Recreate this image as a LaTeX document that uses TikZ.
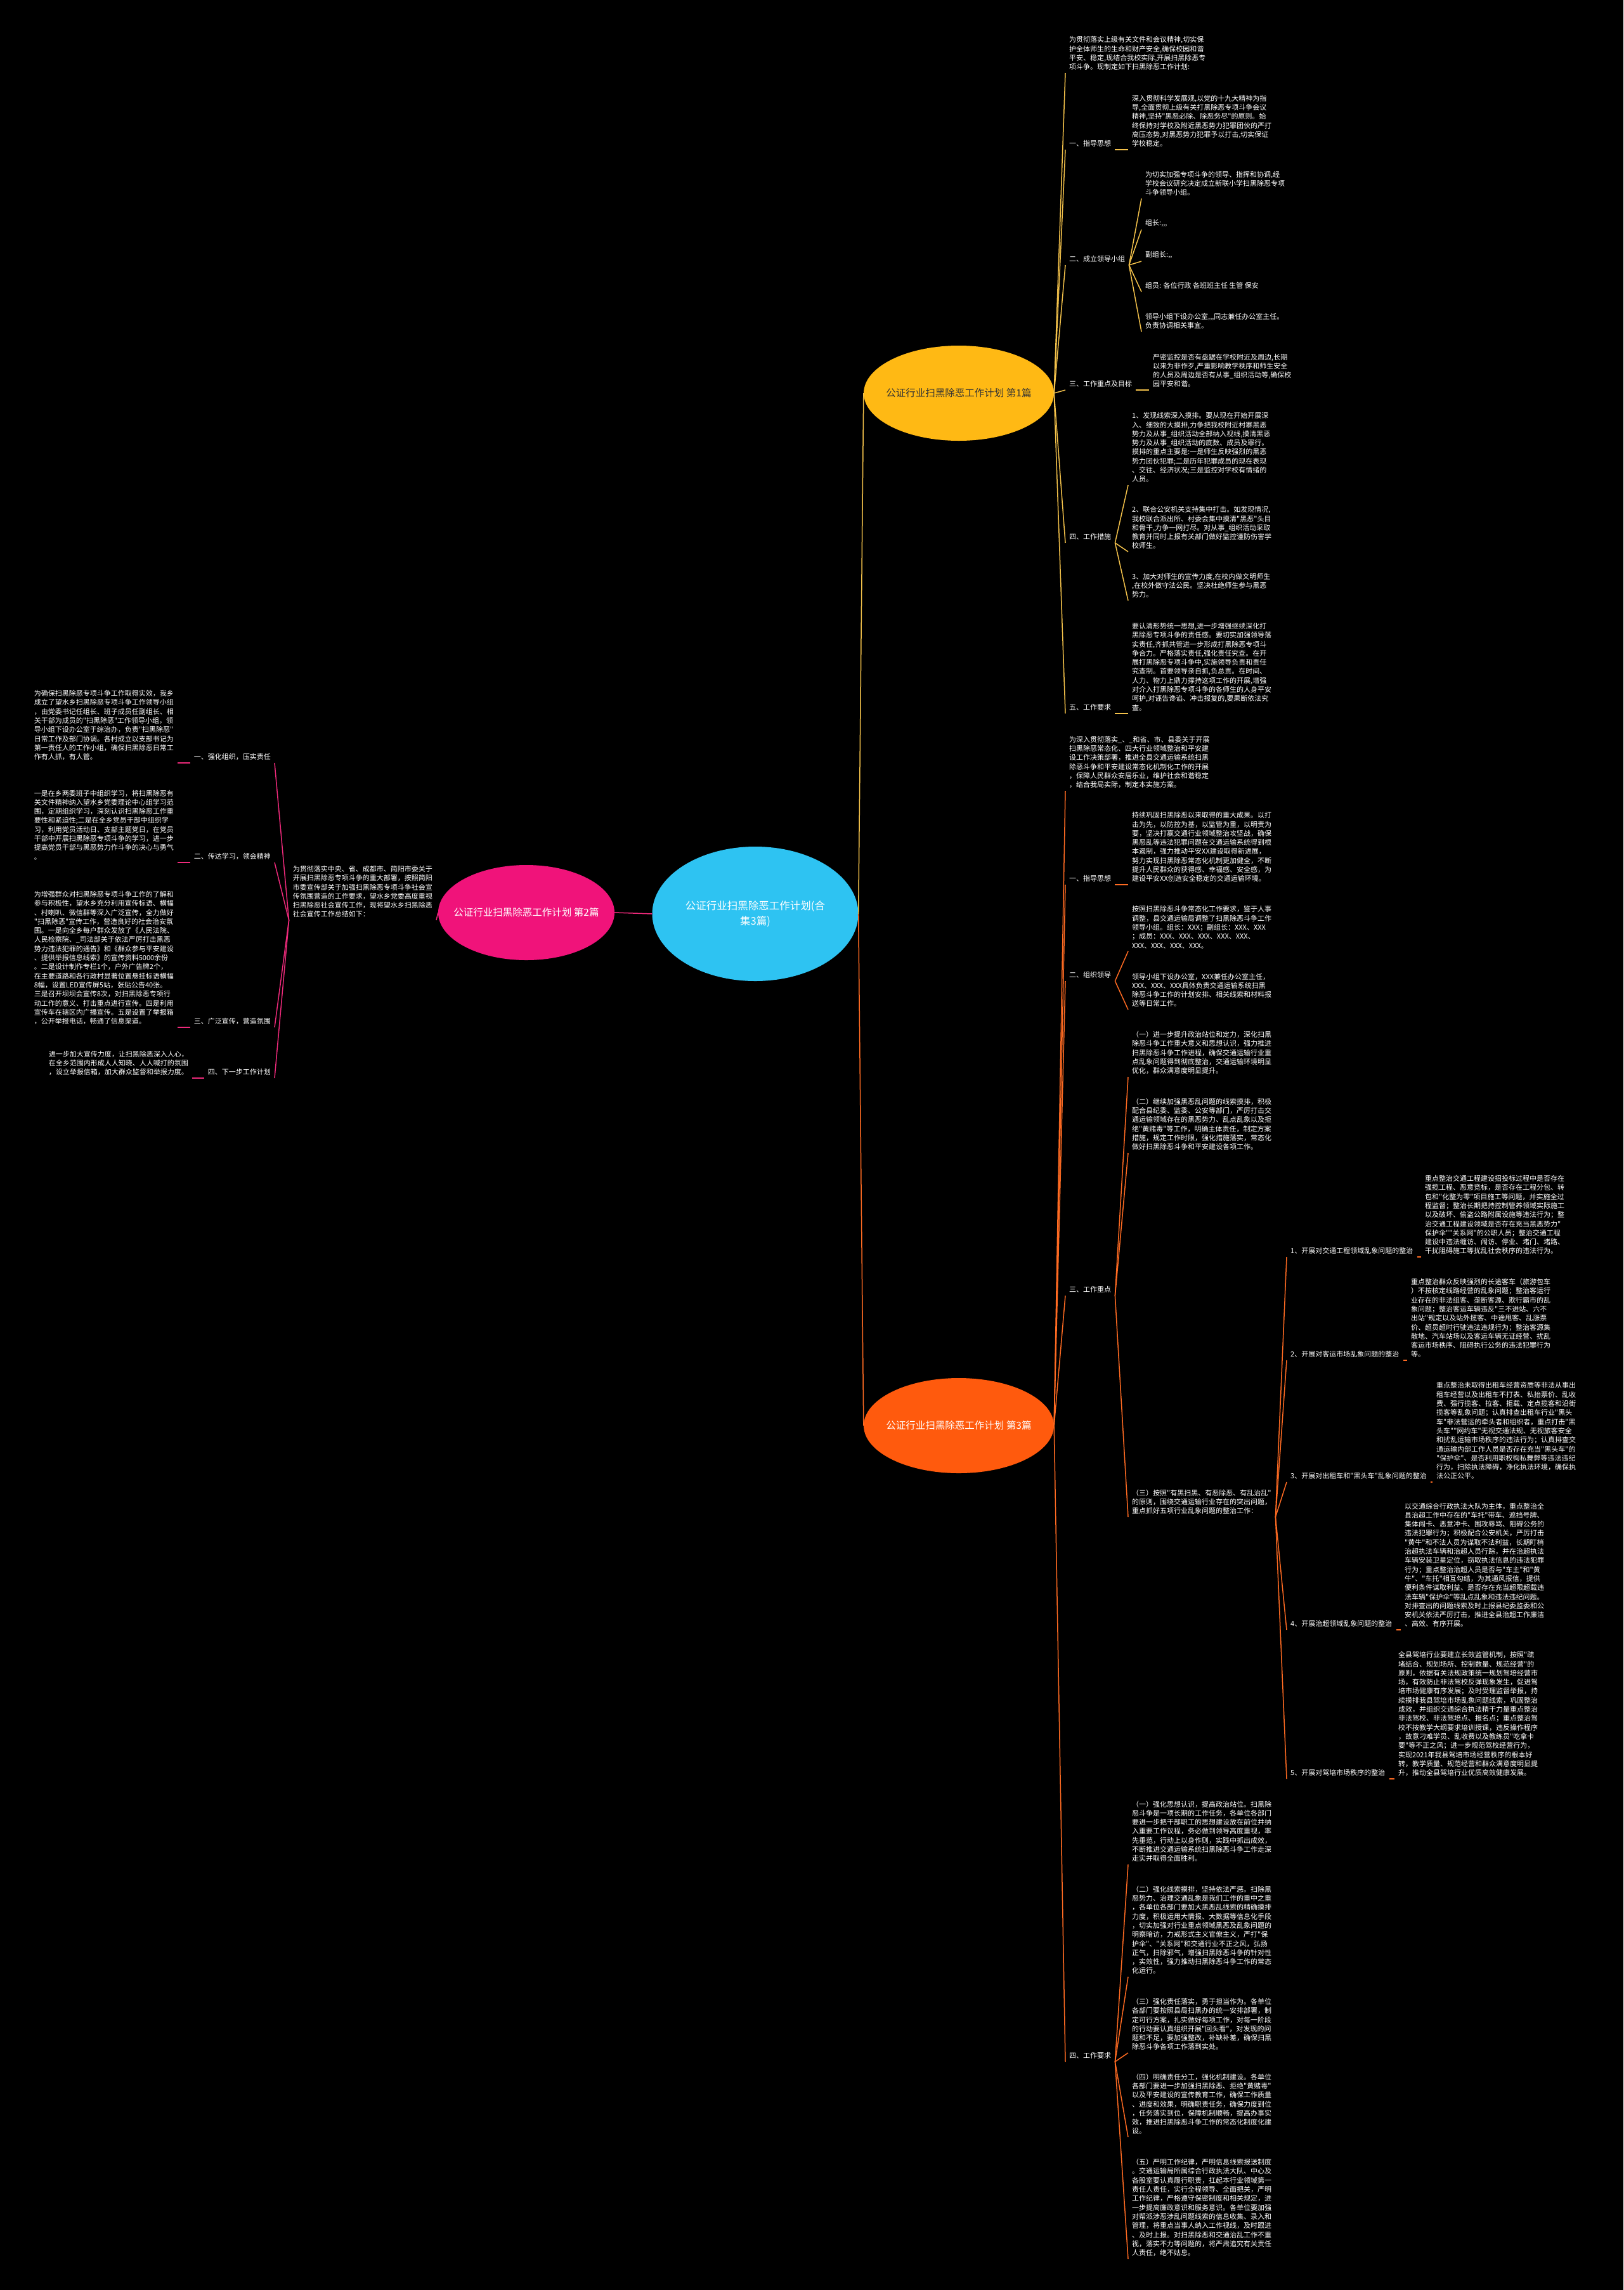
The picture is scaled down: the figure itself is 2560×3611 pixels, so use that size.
\documentclass[tikz,border=0pt]{standalone}
\usepackage{fontspec}
\newfontfamily\cjk{Noto Sans CJK SC}
\usetikzlibrary{shapes.geometric}
\definecolor{hubcyan}{HTML}{2EC3F2}
\definecolor{planyellow}{HTML}{FFB914}
\definecolor{planorange}{HTML}{FF5A0D}
\definecolor{planpink}{HTML}{F0137A}
\definecolor{lineyellow}{HTML}{F4C24B}
\definecolor{lineorange}{HTML}{FF6B22}
\definecolor{linepink}{HTML}{EE2A7B}

\begin{document}
\begin{tikzpicture}[x=1pt, y=-1pt]
\tikzset{
  hub/.style={ellipse, inner xsep=-22pt, inner ysep=0pt, minimum width=300pt, minimum height=150pt, text=white, align=center, font=\cjk\fontsize{15.5}{19}\selectfont},
  leaf/.style={inner xsep=6pt, inner ysep=4pt, text=white, align=left, font=\cjk\fontsize{11}{14.3}\selectfont},
  rleaf/.style={leaf, anchor=south west},
  lleaf/.style={leaf, anchor=south east},
  ylink/.style={draw=lineyellow, line width=1.5pt},
  olink/.style={draw=lineorange, line width=1.5pt},
  plink/.style={draw=linepink, line width=1.5pt}
}
\path[use as bounding box, fill=black] (0,0) rectangle (2560,3611);

\node[hub, fill=hubcyan, minimum width=325pt, minimum height=212pt, font=\cjk\fontsize{16.5}{24}\selectfont] (plan) at (1191,1441) {公证行业扫黑除恶工作计划(合\\集3篇)};
\node[hub, fill=planyellow, text=black!80] (p1) at (1512,620) {公证行业扫黑除恶工作计划 第1篇};
\node[hub, fill=planpink, minimum width=278pt] (p2) at (830,1439) {公证行业扫黑除恶工作计划 第2篇};
\node[hub, fill=planorange] (p3) at (1512,2248) {公证行业扫黑除恶工作计划 第3篇};

\draw[ylink] (plan.east) -- (p1.west);
\draw[plink] (plan.west) -- (p2.east);
\draw[olink] (plan.east) -- (p3.west);

% 第1篇
\node[rleaf] (p1_intro) at (1680,115) {为贯彻落实上级有关文件和会议精神,切实保\\护全体师生的生命和财产安全,确保校园和谐\\平安、稳定,现结合我校实际,开展扫黑除恶专\\项斗争。现制定如下扫黑除恶工作计划:};
\node[rleaf] (p1_guide) at (1680,236) {一、指导思想};
\node[rleaf] (p1_guide_t) at (1779,236) {深入贯彻科学发展观,以党的十九大精神为指\\导,全面贯彻上级有关打黑除恶专项斗争会议\\精神,坚持"黑恶必除、除恶务尽"的原则。始\\终保持对学校及附近黑恶势力犯罪团伙的严打\\高压态势,对黑恶势力犯罪予以打击,切实保证\\学校稳定。};
\node[rleaf] (p1_team) at (1680,418) {二、成立领导小组};
\node[rleaf] (p1_team_a) at (1800,313) {为切实加强专项斗争的领导、指挥和协调,经\\学校会议研究决定成立新联小学扫黑除恶专项\\斗争领导小组。};
\node[rleaf] (p1_team_b) at (1800,362) {组长:,,,};
\node[rleaf] (p1_team_c) at (1800,412) {副组长:,,};
\node[rleaf] (p1_team_d) at (1800,460) {组员: 各位行政 各班班主任 生管 保安};
\node[rleaf] (p1_team_e) at (1800,523) {领导小组下设办公室,,,同志兼任办公室主任。\\负责协调相关事宜。};
\node[rleaf] (p1_focus) at (1680,615) {三、工作重点及目标};
\node[rleaf] (p1_focus_t) at (1812,615) {严密监控是否有盘踞在学校附近及周边,长期\\以来为非作歹,严重影响教学秩序和师生安全\\的人员及周边是否有从事\_组织活动等,确保校\\园平安和谐。};
\node[rleaf] (p1_act) at (1680,856) {四、工作措施};
\node[rleaf] (p1_act_a) at (1779,765) {1、发现线索深入摸排。要从现在开始开展深\\入、细致的大摸排,力争把我校附近村寨黑恶\\势力及从事\_组织活动全部纳入视线,摸清黑恶\\势力及从事\_组织活动的底数、成员及罪行。\\摸排的重点主要是:一是师生反映强烈的黑恶\\势力团伙犯罪;二是历年犯罪成员的现在表现\\、交往、经济状况;三是监控对学校有情绪的\\人员。};
\node[rleaf] (p1_act_b) at (1779,870) {2、联合公安机关支持集中打击。如发现情况,\\我校联合派出所、村委会集中摸清"黑恶"头目\\和骨干,力争一网打尽。对从事\_组织活动采取\\教育并同时上报有关部门做好监控谨防伤害学\\校师生。};
\node[rleaf] (p1_act_c) at (1779,947) {3、加大对师生的宣传力度,在校内做文明师生\\,在校外做守法公民。坚决杜绝师生参与黑恶\\势力。};
\node[rleaf] (p1_req) at (1680,1125) {五、工作要求};
\node[rleaf] (p1_req_t) at (1779,1125) {要认清形势统一思想,进一步增强继续深化打\\黑除恶专项斗争的责任感。要切实加强领导落\\实责任,齐抓共管进一步形成打黑除恶专项斗\\争合力。严格落实责任,强化责任究查。在开\\展打黑除恶专项斗争中,实施领导负责和责任\\究查制。首要领导亲自抓,负总责。在时间、\\人力、物力上鼎力撑持这项工作的开展,增强\\对介入打黑除恶专项斗争的各师生的人身平安\\呵护,对诬告谗谄、冲击报复的,要果断依法究\\查。};

\draw[ylink] (p1.east) -- (p1_intro.south west);
\draw[ylink] (p1.east) -- (p1_guide.south west);
\draw[ylink] (p1.east) -- (p1_team.south west);
\draw[ylink] (p1.east) -- (p1_focus.south west);
\draw[ylink] (p1.east) -- (p1_act.south west);
\draw[ylink] (p1.east) -- (p1_req.south west);
\draw[ylink] (p1_guide.south east) -- (p1_guide_t.south west);
\draw[ylink] (p1_team.south east) -- (p1_team_a.south west);
\draw[ylink] (p1_team.south east) -- (p1_team_b.south west);
\draw[ylink] (p1_team.south east) -- (p1_team_c.south west);
\draw[ylink] (p1_team.south east) -- (p1_team_d.south west);
\draw[ylink] (p1_team.south east) -- (p1_team_e.south west);
\draw[ylink] (p1_focus.south east) -- (p1_focus_t.south west);
\draw[ylink] (p1_act.south east) -- (p1_act_a.south west);
\draw[ylink] (p1_act.south east) -- (p1_act_b.south west);
\draw[ylink] (p1_act.south east) -- (p1_act_c.south west);
\draw[ylink] (p1_req.south east) -- (p1_req_t.south west);

% 第2篇
\node[lleaf] (p2_intro) at (688,1451) {为贯彻落实中央、省、成都市、简阳市委关于\\开展扫黑除恶专项斗争的重大部署，按照简阳\\市委宣传部关于加强扫黑除恶专项斗争社会宣\\传氛围营造的工作要求，望水乡党委高度重视\\扫黑除恶社会宣传工作，现将望水乡扫黑除恶\\社会宣传工作总结如下：};
\node[lleaf] (p2_org) at (433,1203) {一、强化组织，压实责任};
\node[lleaf] (p2_org_t) at (280,1203) {为确保扫黑除恶专项斗争工作取得实效，我乡\\成立了望水乡扫黑除恶专项斗争工作领导小组\\，由党委书记任组长、班子成员任副组长、相\\关干部为成员的"扫黑除恶"工作领导小组，领\\导小组下设办公室于综治办，负责"扫黑除恶"\\日常工作及部门协调。各村成立以支部书记为\\第一责任人的工作小组，确保扫黑除恶日常工\\作有人抓，有人管。};
\node[lleaf] (p2_study) at (433,1360) {二、传达学习，领会精神};
\node[lleaf] (p2_study_t) at (280,1360) {一是在乡两委班子中组织学习，将扫黑除恶有\\关文件精神纳入望水乡党委理论中心组学习范\\围，定期组织学习，深刻认识扫黑除恶工作重\\要性和紧迫性;二是在全乡党员干部中组织学\\习，利用党员活动日、支部主题党日，在党员\\干部中开展扫黑除恶专项斗争的学习，进一步\\提高党员干部与黑恶势力作斗争的决心与勇气\\。};
\node[lleaf] (p2_promo) at (433,1620) {三、广泛宣传，营造氛围};
\node[lleaf] (p2_promo_t) at (280,1620) {为增强群众对扫黑除恶专项斗争工作的了解和\\参与积极性，望水乡充分利用宣传标语、横幅\\、村喇叭、微信群等深入广泛宣传，全力做好\\"扫黑除恶"宣传工作，营造良好的社会治安氛\\围。一是向全乡每户群众发放了《人民法院、\\人民检察院、\_司法部关于依法严厉打击黑恶\\势力违法犯罪的通告》和《群众参与平安建设\\、提供举报信息线索》的宣传资料5000余份\\。二是设计制作专栏1个，户外广告牌2个，\\在主要道路和各行政村显著位置悬挂标语横幅\\8幅，设置LED宣传屏5站，张贴公告40张。\\三是召开坝坝会宣传8次，对扫黑除恶专项行\\动工作的意义、打击重点进行宣传。四是利用\\宣传车在辖区内广播宣传。五是设置了举报箱\\，公开举报电话，畅通了信息渠道。};
\node[lleaf] (p2_next) at (433,1700) {四、下一步工作计划};
\node[lleaf] (p2_next_t) at (303,1700) {进一步加大宣传力度，让扫黑除恶深入人心，\\在全乡范围内形成人人知晓、人人喊打的氛围\\，设立举报信箱，加大群众监督和举报力度。};

\draw[plink] (p2.west) -- (p2_intro.south east);
\draw[plink] (p2_intro.south west) -- (p2_org.south east);
\draw[plink] (p2_intro.south west) -- (p2_study.south east);
\draw[plink] (p2_intro.south west) -- (p2_promo.south east);
\draw[plink] (p2_intro.south west) -- (p2_next.south east);
\draw[plink] (p2_org.south west) -- (p2_org_t.south east);
\draw[plink] (p2_study.south west) -- (p2_study_t.south east);
\draw[plink] (p2_promo.south west) -- (p2_promo_t.south east);
\draw[plink] (p2_next.south west) -- (p2_next_t.south east);

% 第3篇
\node[rleaf] (p3_intro) at (1680,1247) {为深入贯彻落实\_、\_和省、市、县委关于开展\\扫黑除恶常态化、四大行业领域整治和平安建\\设工作决策部署，推进全县交通运输系统扫黑\\除恶斗争和平安建设常态化机制化工作的开展\\，保障人民群众安居乐业，维护社会和谐稳定\\，结合我局实际，制定本实施方案。};
\node[rleaf] (p3_guide) at (1680,1395) {一、指导思想};
\node[rleaf] (p3_guide_t) at (1779,1395) {持续巩固扫黑除恶以来取得的重大成果。以打\\击为先，以防控为基，以监管为重，以明责为\\要，坚决打赢交通行业领域整治攻坚战，确保\\黑恶乱等违法犯罪问题在交通运输系统得到根\\本遏制，强力推动平安XX建设取得新进展，\\努力实现扫黑除恶常态化机制更加健全，不断\\提升人民群众的获得感、幸福感、安全感，为\\建设平安XX创造安全稳定的交通运输环境。};
\node[rleaf] (p3_lead) at (1680,1547) {二、组织领导};
\node[rleaf] (p3_lead_a) at (1779,1500) {按照扫黑除恶斗争常态化工作要求，鉴于人事\\调整，县交通运输局调整了扫黑除恶斗争工作\\领导小组。组长：XXX；副组长：XXX、XXX\\；成员：XXX、XXX、XXX、XXX、XXX、\\XXX、XXX、XXX、XXX。};
\node[rleaf] (p3_lead_b) at (1779,1592) {领导小组下设办公室，XXX兼任办公室主任，\\XXX、XXX、XXX具体负责交通运输系统扫黑\\除恶斗争工作的计划安排、相关线索和材料报\\送等日常工作。};
\node[rleaf] (p3_focus) at (1680,2043) {三、工作重点};
\node[rleaf] (p3_focus_a) at (1779,1698) {（一）进一步提升政治站位和定力，深化扫黑\\除恶斗争工作重大意义和思想认识，强力推进\\扫黑除恶斗争工作进程，确保交通运输行业重\\点乱象问题得到彻底整治，交通运输环境明显\\优化，群众满意度明显提升。};
\node[rleaf] (p3_focus_b) at (1779,1818) {（二）继续加强黑恶乱问题的线索摸排，积极\\配合县纪委、监委、公安等部门，严厉打击交\\通运输领域存在的黑恶势力、乱点乱象以及拒\\绝"黄赌毒"等工作，明确主体责任，制定方案\\措施，规定工作时限，强化措施落实，常态化\\做好扫黑除恶斗争和平安建设各项工作。};
\node[rleaf] (p3_focus_c) at (1779,2392) {（三）按照"有黑扫黑、有恶除恶、有乱治乱"\\的原则，围绕交通运输行业存在的突出问题，\\重点抓好五项行业乱象问题的整治工作：};
\node[rleaf] (p3_fix1) at (2029,1982) {1、开展对交通工程领域乱象问题的整治};
\node[rleaf] (p3_fix1_t) at (2241,1982) {重点整治交通工程建设招投标过程中是否存在\\强揽工程、恶意竞标，是否存在工程分包、转\\包和"化整为零"项目施工等问题，并实施全过\\程监督；整治长期把持控制管养领域实际施工\\以及破坏、偷盗公路附属设施等违法行为；整\\治交通工程建设领域是否存在充当黑恶势力"\\保护伞""关系网"的公职人员；整治交通工程\\建设中违法缠访、闹访、停业、堵门、堵路、\\干扰阻碍施工等扰乱社会秩序的违法行为。};
\node[rleaf] (p3_fix2) at (2029,2145) {2、开展对客运市场乱象问题的整治};
\node[rleaf] (p3_fix2_t) at (2219,2145) {重点整治群众反映强烈的长途客车（旅游包车\\）不按核定线路经营的乱象问题；整治客运行\\业存在的非法组客、垄断客源、欺行霸市的乱\\象问题；整治客运车辆违反"三不进站、六不\\出站"规定以及站外揽客、中途甩客、乱涨票\\价、超员超时行驶违法违规行为；整治客源集\\散地、汽车站场以及客运车辆无证经营、扰乱\\客运市场秩序、阻碍执行公务的违法犯罪行为\\等。};
\node[rleaf] (p3_fix3) at (2029,2337) {3、开展对出租车和"黑头车"乱象问题的整治};
\node[rleaf] (p3_fix3_t) at (2259,2337) {重点整治未取得出租车经营资质等非法从事出\\租车经营以及出租车不打表、私抬票价、乱收\\费、强行揽客、拉客、拒载、定点揽客和沿街\\揽客等乱象问题；认真排查出租车行业"黑头\\车"非法营运的牵头者和组织者，重点打击"黑\\头车""网约车"无视交通法规、无视旅客安全\\和扰乱运输市场秩序的违法行为；认真排查交\\通运输内部工作人员是否存在充当"黑头车"的\\"保护伞"、是否利用职权徇私舞弊等违法违纪\\行为，扫除执法障碍，净化执法环境，确保执\\法公正公平。};
\node[rleaf] (p3_fix4) at (2029,2570) {4、开展治超领域乱象问题的整治};
\node[rleaf] (p3_fix4_t) at (2209,2570) {以交通综合行政执法大队为主体，重点整治全\\县治超工作中存在的"车托"带车、遮挡号牌、\\集体闯卡、恶意冲卡、围攻辱骂、阻碍公务的\\违法犯罪行为；积极配合公安机关，严厉打击\\"黄牛"和不法人员为谋取不法利益，长期盯梢\\治超执法车辆和治超人员行踪，并在治超执法\\车辆安装卫星定位，窃取执法信息的违法犯罪\\行为；重点整治治超人员是否与"车主"和"黄\\牛"、"车托"相互勾结，为其通风报信，提供\\便利条件谋取利益、是否存在充当超限超载违\\法车辆"保护伞"等乱点乱象和违法违纪问题。\\对排查出的问题线索及时上报县纪委监委和公\\安机关依法严厉打击，推进全县治超工作廉洁\\、高效、有序开展。};
\node[rleaf] (p3_fix5) at (2029,2805) {5、开展对驾培市场秩序的整治};
\node[rleaf] (p3_fix5_t) at (2199,2805) {全县驾培行业要建立长效监管机制，按照"疏\\堵结合、规划场所、控制数量、规范经营"的\\原则，依据有关法规政策统一规划驾培经营市\\场，有效防止非法驾校反弹现象发生，促进驾\\培市场健康有序发展；及时受理监督举报，持\\续摸排我县驾培市场乱象问题线索，巩固整治\\成效，并组织交通综合执法精干力量重点整治\\非法驾校、非法驾培点、报名点；重点整治驾\\校不按教学大纲要求培训授课，违反操作程序\\，故意刁难学员、乱收费以及教练员"吃拿卡\\要"等不正之风；进一步规范驾校经营行为，\\实现2021年我县驾培市场经营秩序的根本好\\转，教学质量、规范经营和群众满意度明显提\\升，推动全县驾培行业优质高效健康发展。};
\node[rleaf] (p3_req) at (1680,3251) {四、工作要求};
\node[rleaf] (p3_req_a) at (1779,2940) {（一）强化思想认识，提高政治站位。扫黑除\\恶斗争是一项长期的工作任务，各单位各部门\\要进一步把干部职工的思想建设放在前位并纳\\入重要工作议程，务必做到领导高度重视，率\\先垂范，行动上以身作则，实践中抓出成效，\\不断推进交通运输系统扫黑除恶斗争工作走深\\走实并取得全面胜利。};
\node[rleaf] (p3_req_b) at (1779,3117) {（二）强化线索摸排，坚持依法严惩。扫除黑\\恶势力、治理交通乱象是我们工作的重中之重\\，各单位各部门要加大黑恶乱线索的精确摸排\\力度，积极运用大情报、大数据等信息化手段\\，切实加强对行业重点领域黑恶及乱象问题的\\明察暗访，力戒形式主义官僚主义，严打"保\\护伞"、"关系网"和交通行业不正之风，弘扬\\正气，扫除邪气，增强扫黑除恶斗争的针对性\\，实效性，强力推动扫黑除恶斗争工作的常态\\化运行。};
\node[rleaf] (p3_req_c) at (1779,3237) {（三）强化责任落实，勇于担当作为。各单位\\各部门要按照县局扫黑办的统一安排部署，制\\定可行方案，扎实做好每项工作，对每一阶段\\的行动要认真组织开展"回头看"，对发现的问\\题和不足，要加强整改，补缺补差，确保扫黑\\除恶斗争各项工作落到实处。};
\node[rleaf] (p3_req_d) at (1779,3370) {（四）明确责任分工，强化机制建设。各单位\\各部门要进一步加强扫黑除恶、拒绝"黄赌毒"\\以及平安建设的宣传教育工作，确保工作质量\\、进度和效果，明确职责任务，确保力度到位\\，任务落实到位，保障机制顺畅，提高办事实\\效，推进扫黑除恶斗争工作的常态化制度化建\\设。};
\node[rleaf] (p3_req_e) at (1779,3562) {（五）严明工作纪律，严明信息线索报送制度\\。交通运输局所属综合行政执法大队、中心及\\各股室要认真履行职责，扛起本行业领域第一\\责任人责任，实行全程领导、全面把关，严明\\工作纪律，严格遵守保密制度和相关规定，进\\一步提高廉政意识和服务意识。各单位要加强\\对帮派涉恶涉乱问题线索的信息收集、录入和\\管理，将重点当事人纳入工作视线，及时跟进\\、及时上报。对扫黑除恶和交通治乱工作不重\\视，落实不力等问题的，将严肃追究有关责任\\人责任，绝不姑息。};

\draw[olink] (p3.east) -- (p3_intro.south west);
\draw[olink] (p3.east) -- (p3_guide.south west);
\draw[olink] (p3.east) -- (p3_lead.south west);
\draw[olink] (p3.east) -- (p3_focus.south west);
\draw[olink] (p3.east) -- (p3_req.south west);
\draw[olink] (p3_guide.south east) -- (p3_guide_t.south west);
\draw[olink] (p3_lead.south east) -- (p3_lead_a.south west);
\draw[olink] (p3_lead.south east) -- (p3_lead_b.south west);
\draw[olink] (p3_focus.south east) -- (p3_focus_a.south west);
\draw[olink] (p3_focus.south east) -- (p3_focus_b.south west);
\draw[olink] (p3_focus.south east) -- (p3_focus_c.south west);
\draw[olink] (p3_focus_c.south east) -- (p3_fix1.south west);
\draw[olink] (p3_focus_c.south east) -- (p3_fix2.south west);
\draw[olink] (p3_focus_c.south east) -- (p3_fix3.south west);
\draw[olink] (p3_focus_c.south east) -- (p3_fix4.south west);
\draw[olink] (p3_focus_c.south east) -- (p3_fix5.south west);
\draw[olink] (p3_fix1.south east) -- (p3_fix1_t.south west);
\draw[olink] (p3_fix2.south east) -- (p3_fix2_t.south west);
\draw[olink] (p3_fix3.south east) -- (p3_fix3_t.south west);
\draw[olink] (p3_fix4.south east) -- (p3_fix4_t.south west);
\draw[olink] (p3_fix5.south east) -- (p3_fix5_t.south west);
\draw[olink] (p3_req.south east) -- (p3_req_a.south west);
\draw[olink] (p3_req.south east) -- (p3_req_b.south west);
\draw[olink] (p3_req.south east) -- (p3_req_c.south west);
\draw[olink] (p3_req.south east) -- (p3_req_d.south west);
\draw[olink] (p3_req.south east) -- (p3_req_e.south west);
\end{tikzpicture}
\end{document}
